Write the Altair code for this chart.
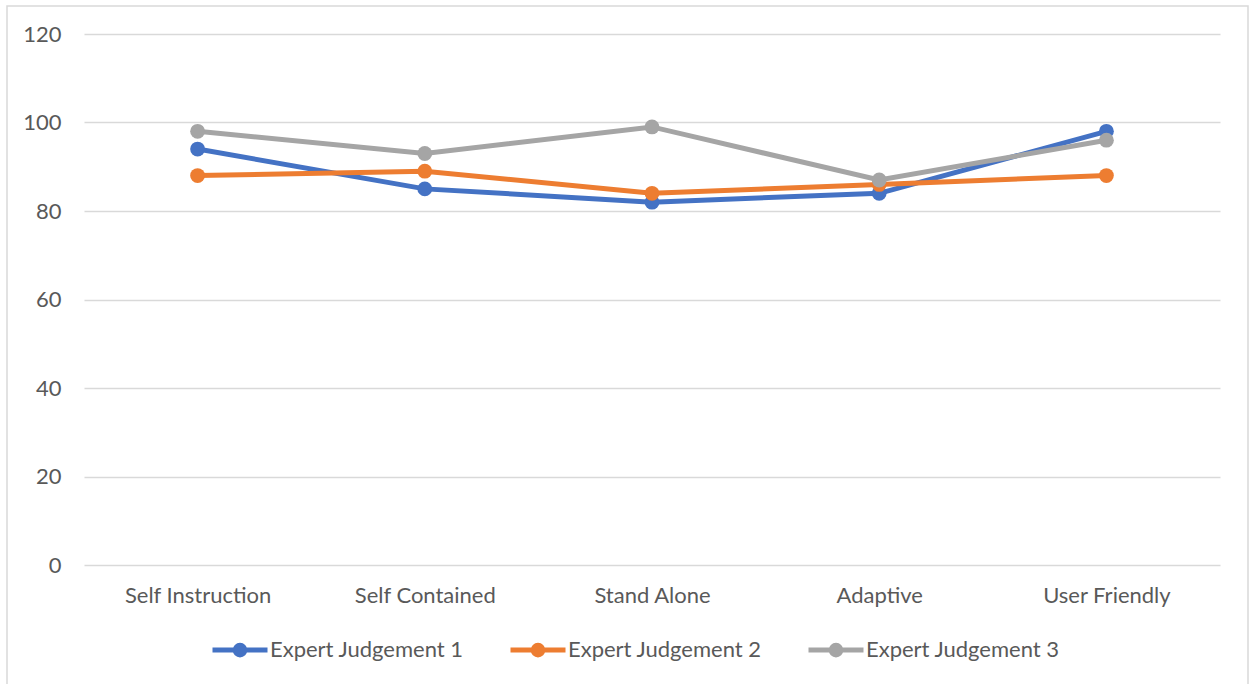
import altair as alt
import pandas as pd

categories = ["Self Instruction", "Self Contained", "Stand Alone", "Adaptive", "User Friendly"]
series_names = ["Expert Judgement 1", "Expert Judgement 2", "Expert Judgement 3"]
ej1 = [94, 85, 82, 84, 98]
ej2 = [88, 89, 84, 86, 88]
ej3 = [98, 93, 99, 87, 96]
colors = ["#4472C4", "#ED7D31", "#A5A5A5"]

rows = []
for name, vals in zip(series_names, [ej1, ej2, ej3]):
    for c, v in zip(categories, vals):
        rows.append({"Category": c, "Series": name, "Value": v})
df = pd.DataFrame(rows)

FONT = "Lato"
TXT = "#595959"
GRID = "#d9d9d9"


def ring(r):
    return f"M{-r},0A{r},{r} 0 1,1 {r},0A{r},{r} 0 1,1 {-r},0"


legend_path = "M-1,0L1,0" + ring(0.044) + ring(0.1) + ring(0.175)

x = alt.X("Category:N", sort=categories, title=None,
          scale=alt.Scale(type="point", padding=0.5),
          axis=alt.Axis(labelAngle=0, ticks=False, domain=False, grid=False,
                        labelPadding=20, labelFontSize=22, labelColor=TXT, labelFont=FONT))
y = alt.Y("Value:Q", title=None, scale=alt.Scale(domain=[0, 120], nice=False),
          axis=alt.Axis(values=[0, 20, 40, 60, 80, 100, 120], ticks=False, domain=False,
                        gridColor=GRID, gridWidth=1.3, labelPadding=23,
                        labelFontSize=22, labelColor=TXT, labelFont=FONT))
color_line = alt.Color("Series:N", sort=series_names,
                       scale=alt.Scale(domain=series_names, range=colors),
                       legend=alt.Legend(orient="none", direction="horizontal", title=None,
                                         legendX=126, legendY=586,
                                         symbolType=legend_path, symbolSize=3025,
                                         symbolStrokeWidth=5, labelFontSize=22,
                                         labelColor=TXT, labelFont=FONT, labelOffset=0,
                                         columnPadding=36, labelLimit=400))
color_pt = alt.Color("Series:N", sort=series_names,
                     scale=alt.Scale(domain=series_names, range=colors), legend=None)

border = alt.Chart(pd.DataFrame({"a": [0]})).mark_rect(
    fill=None, stroke=GRID, strokeWidth=1.5
).encode(x=alt.value(-77), x2=alt.value(1164), y=alt.value(-28), y2=alt.value(680))

lines = alt.Chart(df).mark_line(strokeWidth=5).encode(x=x, y=y, color=color_line)
points = alt.Chart(df).mark_point(filled=True, size=220, opacity=1).encode(x=x, y=y, color=color_pt)

chart = alt.layer(border, lines, points).resolve_legend(color="independent").properties(
    width=1136, height=531,
    autosize=alt.AutoSizeParams(type="none"),
    padding={"left": 84, "top": 34, "right": 30, "bottom": 119},
    background="white",
).configure_view(stroke=None, strokeWidth=0)

chart.save("out.html", embed_options={"renderer": "svg", "actions": False})
